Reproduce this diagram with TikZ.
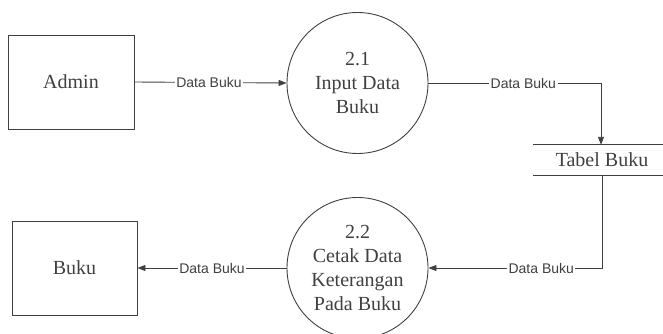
\documentclass[tikz,border=0pt]{standalone}
\usepackage{fontspec}
\setmainfont{Liberation Serif}
\newfontfamily\lblfont{Liberation Sans}
\usetikzlibrary{arrows.meta}
\definecolor{ink}{gray}{0.25}
\tikzset{
  entity/.style={draw=ink, line width=0.9pt, rectangle, minimum width=126pt, minimum height=94pt,
     font=\fontsize{20}{24}\selectfont, text=ink, inner sep=0pt},
  process/.style={draw=ink, line width=0.9pt, circle, minimum size=141pt, inner sep=0pt,
     align=center, font=\fontsize{20}{24}\selectfont, text=ink},
  storebox/.style={rectangle, minimum width=130pt, minimum height=30pt, inner sep=0pt,
     font=\fontsize{20}{24}\selectfont, text=ink},
  flow/.style={draw=ink, line width=0.9pt, -{Triangle[length=8pt,width=6pt]}},
  flowlbl/.style={fill=white, inner sep=1.5pt, font=\lblfont\fontsize{14}{16}\selectfont, text=ink}
}
\begin{document}
\begin{tikzpicture}[x=1pt,y=-1pt]
\useasboundingbox (0,0) rectangle (663,334);
\node[entity] (admin) at (71,82) {Admin};
\node[process] (p21) at (357.5,83) {2.1\\Input Data\\Buku};
\node[storebox] (store) at (598,160) {\hspace*{8pt}Tabel Buku};
\draw[draw=ink, line width=0.9pt] (store.north west) -- (store.north east);
\draw[draw=ink, line width=0.9pt] (store.south west) -- (store.south east);
\node[process] (p22) at (357.5,268) {2.2\\Cetak Data\\Keterangan\\Pada Buku};
\node[entity, minimum width=125pt] (buku) at (74.5,268) {Buku};
\coordinate (c1) at (601,83);
\coordinate (c2) at (602,268);

\draw[flow] (admin.east) -- node[flowlbl, pos=0.49] {Data Buku} (p21.west);
\draw[flow] (p21.east) -- node[flowlbl, pos=0.55] {Data Buku} (c1) -- ([xshift=3pt]store.north);
\draw[flow] ([xshift=4pt]store.south) -- (c2) -- node[flowlbl, pos=0.35] {Data Buku} (p22.east);
\draw[flow] (p22.west) -- node[flowlbl, pos=0.5] {Data Buku} (buku.east);
\end{tikzpicture}
\end{document}
